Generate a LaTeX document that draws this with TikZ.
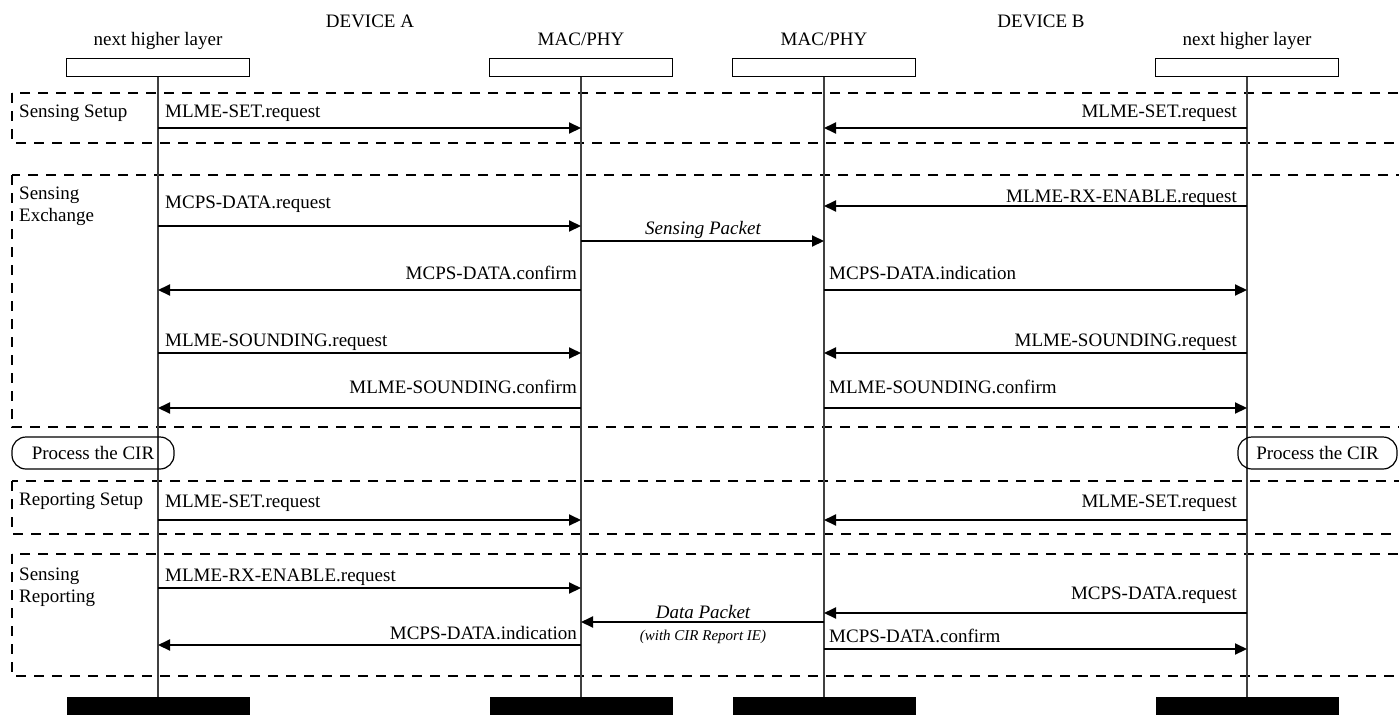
\documentclass[tikz,border=0pt]{standalone}
\usepackage{fontspec}
\setmainfont{Liberation Serif}
\usetikzlibrary{arrows.meta}
\begin{document}
\begin{tikzpicture}[x=1pt,y=-1pt,
  every node/.style={font=\fontsize{19}{22}\selectfont, inner sep=0pt},
  hdrbox/.style={draw, line width=1pt, minimum width=183pt, minimum height=18pt},
  bar/.style={fill=black, minimum width=183pt, minimum height=18pt},
  lifeline/.style={draw=black!75, line width=1.1pt},
  msg/.style={line width=2pt, -{Triangle[length=12pt,width=11pt]}},
  phase/.style={draw, dash pattern=on 10pt off 8pt, line width=1.2pt},
  lbl/.style={anchor=base west},
  rlbl/.style={anchor=base east},
  ctr/.style={anchor=base},
  pkt/.style={anchor=base, font=\fontsize{19}{22}\selectfont\itshape},
  pktsub/.style={anchor=base, font=\fontsize{15}{18}\selectfont\itshape},
  proc/.style={draw, line width=1.2pt, rounded corners=14pt, minimum height=32pt}
]
\useasboundingbox (0,0) rectangle (1399,715);

% phase frames
\draw[phase] (12,93) rectangle (1420,143);
\draw[phase] (12,175) rectangle (1420,427);
\draw[phase] (12,481) rectangle (1420,534);
\draw[phase] (12,554) rectangle (1420,676);

% headers
\node[ctr] (devA) at (370,27) {DEVICE A};
\node[ctr] (devB) at (1041,27) {DEVICE B};
\node[ctr] (tA) at (158,45) {next higher layer};
\node[ctr] (tB) at (581,45) {MAC/PHY};
\node[ctr] (tC) at (824,45) {MAC/PHY};
\node[ctr] (tD) at (1247,45) {next higher layer};

\node[hdrbox] (hA) at (158,67) {};
\node[hdrbox] (hB) at (581,67) {};
\node[hdrbox] (hC) at (824,67) {};
\node[hdrbox] (hD) at (1247,67) {};

\node[bar] (bA) at (158,706) {};
\node[bar] (bB) at (581,706) {};
\node[bar] (bC) at (824,706) {};
\node[bar] (bD) at (1247,706) {};

\draw[lifeline] (hA.south) -- (bA.north);
\draw[lifeline] (hB.south) -- (bB.north);
\draw[lifeline] (hC.south) -- (bC.north);
\draw[lifeline] (hD.south) -- (bD.north);

% phase labels
\node[lbl] (ph1) at (19,117) {Sensing Setup};
\node[lbl] (ph2a) at (19,199) {Sensing};
\node[lbl] (ph2b) at (19,221) {Exchange};
\node[lbl] (ph3) at (19,505) {Reporting Setup};
\node[lbl] (ph4a) at (19,580) {Sensing};
\node[lbl] (ph4b) at (19,602) {Reporting};

% process boxes
\node[proc, minimum width=162pt] (pA) at (93,453) {Process the CIR};
\node[proc, minimum width=159pt] (pD) at (1317.5,453) {Process the CIR};

% messages
\draw[msg] (hA.south |- 0,128) -- (hB.south |- 0,128);
\node[lbl] (m1) at (165,117) {MLME-SET.request};
\draw[msg] (hD.south |- 0,128) -- (hC.south |- 0,128);
\node[rlbl] (m2) at (1237,117) {MLME-SET.request};

\draw[msg] (hD.south |- 0,206) -- (hC.south |- 0,206);
\node[rlbl] (m3) at (1237,202) {MLME-RX-ENABLE.request};
\draw[msg] (hA.south |- 0,226) -- (hB.south |- 0,226);
\node[lbl] (m4) at (165,208) {MCPS-DATA.request};
\draw[msg] (hB.south |- 0,241) -- (hC.south |- 0,241);
\node[pkt] (m5) at (703,234) {Sensing Packet};

\draw[msg] (hB.south |- 0,290) -- (hA.south |- 0,290);
\node[rlbl] (m6) at (577,279) {MCPS-DATA.confirm};
\draw[msg] (hC.south |- 0,290) -- (hD.south |- 0,290);
\node[lbl] (m7) at (829,279) {MCPS-DATA.indication};

\draw[msg] (hA.south |- 0,353) -- (hB.south |- 0,353);
\node[lbl] (m8) at (165,346) {MLME-SOUNDING.request};
\draw[msg] (hD.south |- 0,353) -- (hC.south |- 0,353);
\node[rlbl] (m9) at (1237,346) {MLME-SOUNDING.request};

\draw[msg] (hB.south |- 0,408) -- (hA.south |- 0,408);
\node[rlbl] (m10) at (577,393) {MLME-SOUNDING.confirm};
\draw[msg] (hC.south |- 0,408) -- (hD.south |- 0,408);
\node[lbl] (m11) at (829,393) {MLME-SOUNDING.confirm};

\draw[msg] (hA.south |- 0,520) -- (hB.south |- 0,520);
\node[lbl] (m12) at (165,507) {MLME-SET.request};
\draw[msg] (hD.south |- 0,520) -- (hC.south |- 0,520);
\node[rlbl] (m13) at (1237,507) {MLME-SET.request};

\draw[msg] (hA.south |- 0,588) -- (hB.south |- 0,588);
\node[lbl] (m14) at (165,581) {MLME-RX-ENABLE.request};
\draw[msg] (hD.south |- 0,613) -- (hC.south |- 0,613);
\node[rlbl] (m15) at (1237,599) {MCPS-DATA.request};
\draw[msg] (hC.south |- 0,622) -- (hB.south |- 0,622);
\node[pkt] (m16) at (703,618) {Data Packet};
\node[pktsub] (m16b) at (703,640) {(with CIR Report IE)};

\draw[msg] (hB.south |- 0,645) -- (hA.south |- 0,645);
\node[rlbl] (m17) at (577,639) {MCPS-DATA.indication};
\draw[msg] (hC.south |- 0,649) -- (hD.south |- 0,649);
\node[lbl] (m18) at (829,642) {MCPS-DATA.confirm};
\end{tikzpicture}
\end{document}
